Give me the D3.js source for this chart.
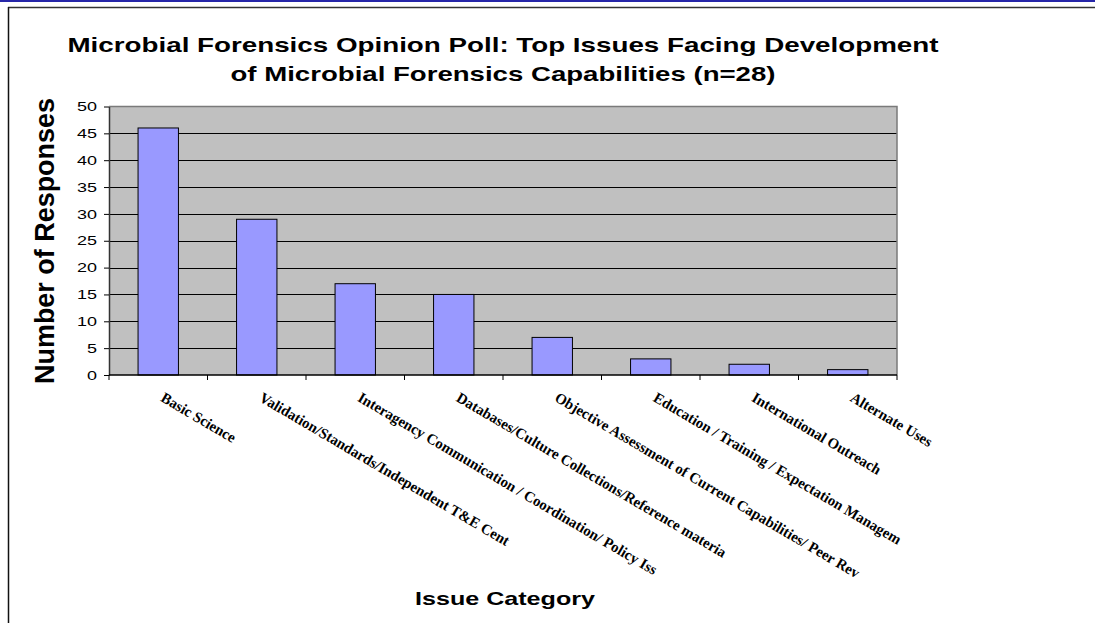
<!DOCTYPE html>
<html>
<head>
<meta charset="utf-8">
<script src="https://cdn.jsdelivr.net/npm/d3@7"></script>
<style>
  html, body { margin: 0; padding: 0; background: #fff; }
  svg { display: block; }
</style>
</head>
<body>
<svg id="chart" width="1095" height="623"></svg>
<script>
const titleLines = [
  "Microbial Forensics Opinion Poll: Top Issues Facing Development",
  "of Microbial Forensics Capabilities (n=28)"
];
const categories = [
  "Basic Science",
  "Validation/Standards/Independent T&E Cent",
  "Interagency Communication / Coordination/ Policy Iss",
  "Databases/Culture Collections/Reference materia",
  "Objective Assessment of Current Capabilities/ Peer Rev",
  "Education / Training / Expectation Managem",
  "International Outreach",
  "Alternate Uses"
];
const responses = [46, 29, 17, 15, 7, 3, 2, 1];
const yTicks = [0, 5, 10, 15, 20, 25, 30, 35, 40, 45, 50];
const yTitle = "Number of Responses";
const xTitle = "Issue Category";

const svg = d3.select("#chart");
const sans = "'Liberation Sans', Arial, sans-serif";
const serif = "'Liberation Serif', 'Times New Roman', serif";

const plot = { left: 109, right: 897, top: 106.5, bottom: 375 };

// outer frame
svg.append("rect").attr("x", 0).attr("y", 0).attr("width", 1095).attr("height", 2).attr("fill", "#2626a8");
svg.append("line").attr("x1", 8).attr("x2", 1095).attr("y1", 7.5).attr("y2", 7.5).attr("stroke", "#333").attr("stroke-width", 1.5);
svg.append("line").attr("x1", 8.5).attr("x2", 8.5).attr("y1", 7).attr("y2", 623).attr("stroke", "#111").attr("stroke-width", 1.5);

const x = d3.scaleBand().domain(categories).range([plot.left, plot.right]).paddingInner(0.59).paddingOuter(0.295);
const y = d3.scaleLinear().domain([0, 50]).range([plot.bottom, plot.top]);

// plot background
svg.append("rect")
  .attr("x", plot.left).attr("y", plot.top)
  .attr("width", plot.right - plot.left).attr("height", plot.bottom - plot.top)
  .attr("fill", "#c0c0c0");

// gridlines
svg.append("g").selectAll("line").data(yTicks.filter(t => t > 0 && t < 50)).join("line")
  .attr("x1", plot.left).attr("x2", plot.right)
  .attr("y1", d => Math.round(y(d)) + 0.5).attr("y2", d => Math.round(y(d)) + 0.5)
  .attr("stroke", "#000").attr("stroke-width", 1);

// plot border top & right (gray)
svg.append("path")
  .attr("d", `M${plot.left},${plot.top}H${plot.right}V${plot.bottom}`)
  .attr("fill", "none").attr("stroke", "#7a7a7a").attr("stroke-width", 1.5);

// bars
svg.append("g").selectAll("rect").data(categories).join("rect")
  .attr("x", d => x(d)).attr("width", x.bandwidth())
  .attr("y", (d, i) => y(responses[i]))
  .attr("height", (d, i) => y(0) - y(responses[i]))
  .attr("fill", "#9999ff").attr("stroke", "#000").attr("stroke-width", 1);

// y axis
const yAxis = svg.append("g")
  .attr("transform", `translate(${plot.left},0)`)
  .call(d3.axisLeft(y).tickValues(yTicks).tickSize(5).tickPadding(6).tickSizeOuter(0));
yAxis.select(".domain").attr("stroke", "#333").attr("stroke-width", 1.5);
yAxis.selectAll(".tick line").attr("stroke", "#000");
yAxis.selectAll(".tick text")
  .attr("font-family", sans).attr("font-size", 13).attr("fill", "#000")
  .attr("x", -12)
  .attr("textLength", d => String(d).length * 10)
  .attr("lengthAdjust", "spacingAndGlyphs");

// x axis line and boundary ticks
svg.append("line").attr("x1", plot.left).attr("x2", plot.right)
  .attr("y1", plot.bottom).attr("y2", plot.bottom).attr("stroke", "#000").attr("stroke-width", 1.5);
svg.append("g").selectAll("line").data(d3.range(categories.length + 1)).join("line")
  .attr("x1", i => plot.left + i * x.step()).attr("x2", i => plot.left + i * x.step())
  .attr("y1", plot.bottom).attr("y2", plot.bottom + 5)
  .attr("stroke", "#000");

// x category labels
svg.append("g").selectAll("text").data(categories).join("text")
  .attr("transform", d => `translate(${x(d) + x.bandwidth() / 2 + 7},${plot.bottom + 16}) rotate(30.5)`)
  .attr("x", 0).attr("y", 11)
  .attr("font-family", serif).attr("font-weight", "bold").attr("font-size", 15)
  .attr("fill", "#000")
  .text(d => d)
  .each(function() {
    const len = this.getComputedTextLength();
    d3.select(this).attr("textLength", len * 0.985).attr("lengthAdjust", "spacingAndGlyphs");
  });

// title
const titleWidths = [871, 545];
svg.append("g").selectAll("text").data(titleLines).join("text")
  .attr("x", 503).attr("y", (d, i) => 52 + i * 29)
  .attr("text-anchor", "middle")
  .attr("font-family", sans).attr("font-weight", "bold").attr("font-size", 21)
  .attr("fill", "#000")
  .attr("textLength", (d, i) => titleWidths[i])
  .attr("lengthAdjust", "spacingAndGlyphs")
  .text(d => d);

// y title
svg.append("text")
  .attr("transform", "translate(54,241) rotate(-90)")
  .attr("text-anchor", "middle")
  .attr("font-family", sans).attr("font-weight", "bold").attr("font-size", 27)
  .attr("fill", "#000")
  .attr("textLength", 286)
  .attr("lengthAdjust", "spacingAndGlyphs")
  .text(yTitle);

// x title
svg.append("text")
  .attr("x", 505).attr("y", 605)
  .attr("text-anchor", "middle")
  .attr("font-family", sans).attr("font-weight", "bold").attr("font-size", 19)
  .attr("fill", "#000")
  .attr("textLength", 180)
  .attr("lengthAdjust", "spacingAndGlyphs")
  .text(xTitle);
</script>
</body>
</html>
